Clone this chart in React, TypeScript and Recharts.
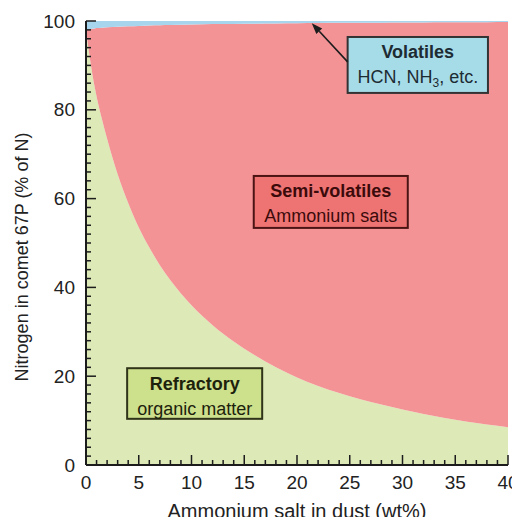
import React from 'react';
import {Area, AreaChart, Label, ReferenceArea, ReferenceLine, XAxis, YAxis} from 'recharts';

// values (x = wt% ammonium salt, y = % of nitrogen)
const saltWt = [0, 0.25, 0.5, 1, 1.5, 2, 3, 4, 5, 6, 7, 8, 10, 12, 14, 16, 18, 20, 22, 24, 26, 28, 30, 32, 34, 36, 38, 40];
const refractoryN = [98, 93.5, 89.5, 83, 78, 73.5, 65.5, 59, 53.5, 49, 45, 41.6, 36, 31.5, 27.8, 24.7, 22, 19.7, 17.8, 16.2, 14.8, 13.6, 12.5, 11.5, 10.6, 9.8, 9.1, 8.5];
const volatileN = [2, 1.9, 1.8, 1.6, 1.5, 1.4, 1.3, 1.2, 1.1, 1.0, 0.95, 0.9, 0.8, 0.7, 0.65, 0.6, 0.55, 0.5, 0.45, 0.42, 0.4, 0.37, 0.35, 0.32, 0.3, 0.28, 0.26, 0.25];

const xMajorTicks = [0, 5, 10, 15, 20, 25, 30, 35, 40];
const yMajorTicks = [0, 20, 40, 60, 80, 100];
const xAllTicks = Array.from({length: 41}, (_, i) => i);
const yAllTicks = Array.from({length: 51}, (_, i) => i * 2);

const data = saltWt.map((x, i) => ({
    x,
    refractory: refractoryN[i],
    semi: 100 - refractoryN[i] - volatileN[i],
    volatiles: volatileN[i]
}));

const FONT = '"Liberation Sans", Arial, Helvetica, sans-serif';
const INK = '#1c1c1c';

const LeftTick = ({x, y, payload}: any) => {
    const major = yMajorTicks.includes(payload.value);
    return (
        <g>
            <line x1={x} x2={x + (major ? 10 : 5)} y1={y} y2={y} stroke={INK} strokeWidth={1.5}/>
            {major && <text x={x - 11} y={y} dy="0.35em" textAnchor="end" fontSize={19}
                            fontFamily={FONT} fill="#222">{payload.value}</text>}
        </g>
    );
};

const RightTick = ({x, y, payload}: any) => {
    const major = yMajorTicks.includes(payload.value);
    return <line x1={x} x2={x - (major ? 10 : 5)} y1={y} y2={y} stroke={INK} strokeWidth={1.5}/>;
};

const BottomTick = ({x, y, payload}: any) => {
    const major = xMajorTicks.includes(payload.value);
    return (
        <g>
            <line x1={x} x2={x} y1={y} y2={y - (major ? 10 : 5)} stroke={INK} strokeWidth={1.5}/>
            {major && <text x={x} y={y + 24} textAnchor="middle" fontSize={19}
                            fontFamily={FONT} fill="#222">{payload.value}</text>}
        </g>
    );
};

const noteBox = (fill: string, stroke: string, color: string, title: string, sub: React.ReactNode) =>
    (props: any) => {
        const {x, y, width, height} = props;
        const cx = x + width / 2;
        return (
            <g>
                <rect x={x} y={y} width={width} height={height} fill={fill} stroke={stroke} strokeWidth={2}/>
                <text x={cx} y={y + 15} dy="0.35em" textAnchor="middle" fontSize={18} fontWeight="bold"
                      fontFamily={FONT} fill={color}>{title}</text>
                <text x={cx} y={y + 40} dy="0.35em" textAnchor="middle" fontSize={18}
                      fontFamily={FONT} fill={color}>{sub}</text>
            </g>
        );
    };

const arrowShape = (props: any) => {
    const {x1, y1, x2, y2} = props;
    const a = Math.atan2(y2 - y1, x2 - x1);
    const len = 11, half = 4;
    const bx = x2 - len * Math.cos(a), by = y2 - len * Math.sin(a);
    const pts = [
        `${x2},${y2}`,
        `${bx + half * Math.sin(a)},${by - half * Math.cos(a)}`,
        `${bx - half * Math.sin(a)},${by + half * Math.cos(a)}`
    ].join(' ');
    return (
        <g>
            <line x1={x1} y1={y1} x2={bx} y2={by} stroke={INK} strokeWidth={1.6}/>
            <polygon points={pts} fill={INK}/>
        </g>
    );
};

const yTitle = ({viewBox}: any) => {
    const tx = viewBox.x + 22;
    const ty = viewBox.y + viewBox.height / 2 + 14;
    return (
        <text x={tx} y={ty} transform={`rotate(-90, ${tx}, ${ty})`} dy="0.35em" textAnchor="middle"
              fontSize={18} fontFamily={FONT} fill="#222">Nitrogen in comet 67P (% of N)</text>
    );
};

const xTitle = ({viewBox}: any) => (
    <text x={viewBox.x + viewBox.width / 2} y={viewBox.y + 46} dy="0.35em" textAnchor="middle"
          fontSize={20} fontFamily={FONT} fill="#222">Ammonium salt in dust (wt%)</text>
);

export default function App() {
    return (
        <div style={{margin: -8}}>
            <AreaChart width={520} height={525} data={data}
                       margin={{top: 21, right: 12, left: 0, bottom: 0}}>
                <XAxis dataKey="x" type="number" domain={[0, 40]} ticks={xAllTicks} interval={0}
                       height={60} tickSize={0} tickMargin={0} tickLine={false}
                       axisLine={{stroke: INK, strokeWidth: 2}} tick={<BottomTick/>}>
                    <Label content={xTitle}/>
                </XAxis>
                <XAxis xAxisId="top" orientation="top" type="number" domain={[0, 40]} height={0}
                       tick={false} tickLine={false} axisLine={{stroke: INK, strokeWidth: 2}}/>
                <YAxis type="number" domain={[0, 100]} ticks={yAllTicks} interval={0} width={86}
                       tickSize={0} tickMargin={0} tickLine={false}
                       axisLine={{stroke: INK, strokeWidth: 2}} tick={<LeftTick/>}>
                    <Label content={yTitle}/>
                </YAxis>
                <YAxis yAxisId="right" orientation="right" type="number" domain={[0, 100]} ticks={yAllTicks}
                       interval={0} width={0} tickSize={0} tickMargin={0} tickLine={false}
                       axisLine={{stroke: INK, strokeWidth: 2}} tick={<RightTick/>}/>
                <Area type="monotone" dataKey="refractory" stackId="n" stroke="none" fill="#dde9b7"
                      fillOpacity={1} isAnimationActive={false}/>
                <Area type="monotone" dataKey="semi" stackId="n" stroke="none" fill="#f49396"
                      fillOpacity={1} isAnimationActive={false}/>
                <Area type="monotone" dataKey="volatiles" stackId="n" stroke="none" fill="#a8d5ee"
                      fillOpacity={1} isAnimationActive={false}/>
                <ReferenceLine segment={[{x: 24.8, y: 90.8}, {x: 21.4, y: 99.5}]} shape={arrowShape}/>
                <ReferenceArea x1={24.8} x2={38.1} y1={83.8} y2={96.4}
                               shape={noteBox('#a6dbe8', '#333', '#1d2b33', 'Volatiles',
                                   <>HCN, NH<tspan dy={4} fontSize={12}>3</tspan><tspan dy={-4}>, etc.</tspan></>)}/>
                <ReferenceArea x1={15.9} x2={30.5} y1={53.4} y2={65.1}
                               shape={noteBox('#ee7474', '#4a1414', '#3b0b0b', 'Semi-volatiles', 'Ammonium salts')}/>
                <ReferenceArea x1={3.9} x2={16.7} y1={10.4} y2={21.8}
                               shape={noteBox('#cde08c', '#2f3318', '#1d220c', 'Refractory', 'organic matter')}/>
            </AreaChart>
        </div>
    );
}
